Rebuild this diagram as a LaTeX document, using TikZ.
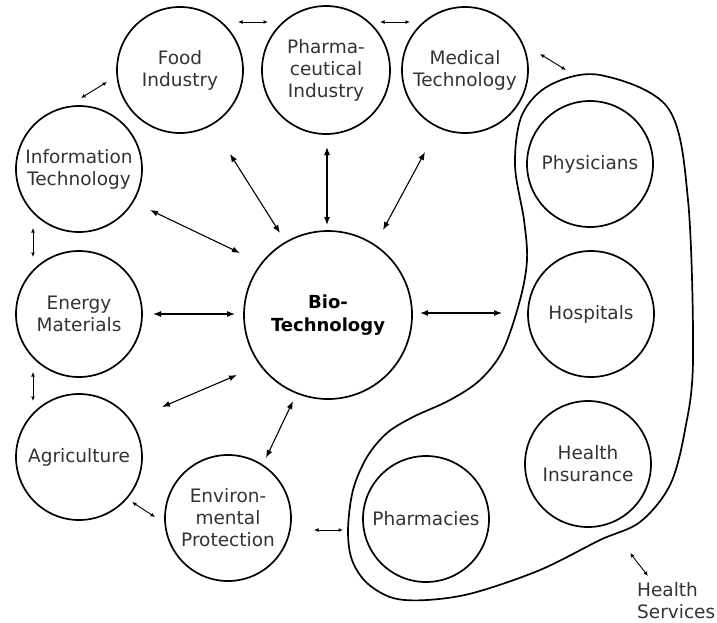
\documentclass[tikz,border=0pt]{standalone}
\usepackage{fontspec}
\setmainfont{DejaVu Sans}
\usetikzlibrary{arrows.meta}
\begin{document}
\begin{tikzpicture}[x=1pt,y=-1pt,
  circ/.style={circle,draw,line width=1.7pt,inner sep=0pt,minimum size=126pt,align=center,
    font=\fontsize{18.5}{22}\selectfont,text=black!80},
  bigarrow/.style={line width=1.1pt,{Latex[length=8pt,width=6pt]}-{Latex[length=8pt,width=6pt]}},
  smallarrow/.style={line width=0.9pt,{Latex[length=4.5pt,width=4pt]}-{Latex[length=4.5pt,width=4pt]}},
  blob/.style={line width=1.7pt}]
\useasboundingbox (0,0) rectangle (717,622);
% nodes
\node[circ] (food) at (180,70) {Food\\Industry};
\node[circ,minimum size=128pt] (pharma) at (326,70) {Pharma-\\ceutical\\Industry};
\node[circ] (med) at (465,70) {Medical\\Technology};
\node[circ] (info) at (79,169) {Information\\Technology};
\node[circ] (energy) at (79,314) {Energy\\Materials};
\node[circ] (agri) at (79,457) {Agriculture};
\node[circ] (env) at (228,518) {Environ-\\mental\\Protection};
\node[circ,minimum size=168pt,font=\fontsize{18}{22.5}\selectfont\bfseries,text=black] (bio) at (328,315) {Bio-\\Technology};
\node[circ] (phys) at (590,164) {Physicians};
\node[circ] (hosp) at (591,314) {Hospitals};
\node[circ] (ins) at (588,464) {Health\\Insurance};
\node[circ] (pharmacies) at (426,519) {Pharmacies};
\node[anchor=west,align=left,inner sep=0pt,font=\fontsize{18.5}{22}\selectfont,text=black!80] (hs) at (637,601) {Health\\Services};
% health services boundary
\draw[blob] plot[smooth cycle,tension=0.55] coordinates {
  (600,75) (668,108) (688,200) (693,360) (685,430) (670,485) (640,522) (600,540)
  (540,570) (473,593) (427,600) (393,598) (367,583) (352,560) (348,530) (353,490)
  (367,457) (387,433) (413,417) (450,400) (480,380)
  (503,350) (520,300) (527,260) (524,220) (515,165) (522,115) (550,85)};
% short arrows
\coordinate (a1) at (238,22); \coordinate (b1) at (268,22);
\coordinate (a2) at (380,22); \coordinate (b2) at (410,22);
\coordinate (a3) at (540,54); \coordinate (b3) at (566,70);
\coordinate (a4) at (81,98);  \coordinate (b4) at (107,82);
\coordinate (a5) at (33,228); \coordinate (b5) at (33,257);
\coordinate (a6) at (33,372); \coordinate (b6) at (33,401);
\coordinate (a7) at (132,502); \coordinate (b7) at (155,517);
\coordinate (a8) at (314,530); \coordinate (b8) at (343,530);
\coordinate (a9) at (630,553); \coordinate (b9) at (648,576);
\foreach \i in {1,...,9} {\draw[smallarrow] (a\i) -- (b\i);}
% radial arrows
\coordinate (r1) at (230,154); \coordinate (s1) at (280,233);
\coordinate (r2) at (327,147); \coordinate (s2) at (327,225);
\coordinate (r3) at (425,152); \coordinate (s3) at (383,230);
\coordinate (r4) at (150,210); \coordinate (s4) at (240,253);
\coordinate (r5) at (153,314); \coordinate (s5) at (235,314);
\coordinate (r6) at (162,407); \coordinate (s6) at (237,375);
\coordinate (r7) at (266,458); \coordinate (s7) at (293,401);
\coordinate (r8) at (420,313); \coordinate (s8) at (502,313);
\foreach \i in {1,...,8} {\draw[bigarrow] (r\i) -- (s\i);}
\end{tikzpicture}
\end{document}
